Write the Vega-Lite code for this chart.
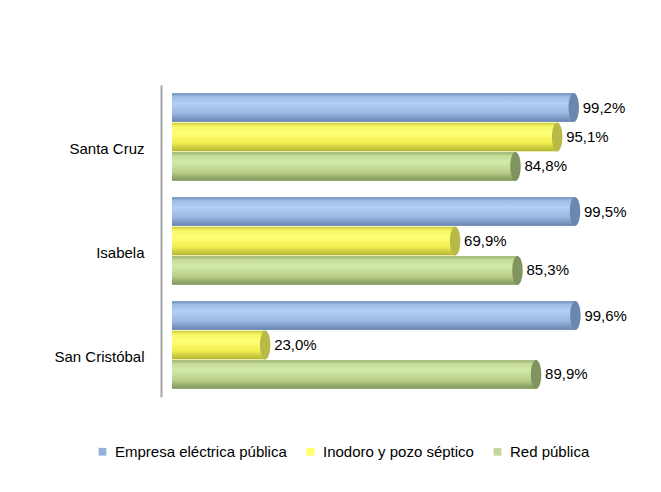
{
  "$schema": "https://vega.github.io/schema/vega-lite/v6.json",
  "width": 405,
  "height": 312,
  "autosize": {"type": "none"},
  "padding": {"left": 172, "top": 85, "right": 84, "bottom": 95},
  "background": "white",
  "config": {
    "view": {"stroke": null},
    "font": "Liberation Sans",
    "locale": {"number": {"decimal": ",", "thousands": ".", "grouping": [3], "currency": ["", " €"]}}
  },
  "data": {
    "values": [
      {"group": "Santa Cruz", "series": "Empresa eléctrica pública", "value": 0.992},
      {"group": "Santa Cruz", "series": "Inodoro y pozo séptico", "value": 0.951},
      {"group": "Santa Cruz", "series": "Red pública", "value": 0.848},
      {"group": "Isabela", "series": "Empresa eléctrica pública", "value": 0.995},
      {"group": "Isabela", "series": "Inodoro y pozo séptico", "value": 0.699},
      {"group": "Isabela", "series": "Red pública", "value": 0.853},
      {"group": "San Cristóbal", "series": "Empresa eléctrica pública", "value": 0.996},
      {"group": "San Cristóbal", "series": "Inodoro y pozo séptico", "value": 0.23},
      {"group": "San Cristóbal", "series": "Red pública", "value": 0.899}
    ]
  },
  "encoding": {
    "y": {
      "field": "group", "type": "nominal",
      "sort": ["Santa Cruz", "Isabela", "San Cristóbal"],
      "scale": {"paddingInner": 0.16, "paddingOuter": 0.08},
      "axis": {"title": null, "ticks": false, "tickSize": 0, "domainColor": "#a6a6a6", "domainWidth": 2, "offset": 11, "labelPadding": 17, "labelFontSize": 15, "labelColor": "#000000", "labelOffset": 12, "labelFont": "Liberation Sans"}
    },
    "yOffset": {
      "field": "series", "type": "nominal",
      "sort": ["Empresa eléctrica pública", "Inodoro y pozo séptico", "Red pública"],
      "scale": {"paddingInner": 0.03}
    },
    "x": {"field": "value", "type": "quantitative", "scale": {"domain": [0, 1], "nice": false}, "axis": null}
  },
  "layer": [
    {
      "mark": {"type": "bar", "stroke": null},
      "encoding": {
        "color": {
          "field": "series", "type": "nominal",
          "scale": {"domain": ["Empresa eléctrica pública", "Inodoro y pozo séptico", "Red pública"], "range": ["#95B3D7", "#FFFF66", "#C3D69B"]},
          "legend": {"orient": "none", "legendX": -77, "legendY": 359, "direction": "horizontal", "title": null, "symbolType": "square", "symbolSize": 60, "symbolStrokeWidth": 0, "labelFontSize": 15, "labelColor": "#000000", "labelFont": "Liberation Sans", "labelLimit": 400, "columnPadding": 16, "labelOffset": 5}
        }
      }
    },
    {
      "transform": [{"filter": "datum.series === 'Empresa eléctrica pública'"}],
      "mark": {"type": "bar", "stroke": null, "fill": {"gradient": "linear", "x1": 0, "y1": 0, "x2": 0, "y2": 1, "stops": [
        {"offset": 0, "color": "#7290bd"}, {"offset": 0.12, "color": "#9dbde8"}, {"offset": 0.35, "color": "#b2d0f5"}, {"offset": 0.7, "color": "#98b7e0"}, {"offset": 1, "color": "#6682ad"}]}}
    },
    {
      "transform": [{"filter": "datum.series === 'Inodoro y pozo séptico'"}],
      "mark": {"type": "bar", "stroke": null, "fill": {"gradient": "linear", "x1": 0, "y1": 0, "x2": 0, "y2": 1, "stops": [
        {"offset": 0, "color": "#c9c93e"}, {"offset": 0.12, "color": "#f5f560"}, {"offset": 0.35, "color": "#ffff7a"}, {"offset": 0.7, "color": "#f0f050"}, {"offset": 1, "color": "#b3b335"}]}}
    },
    {
      "transform": [{"filter": "datum.series === 'Red pública'"}],
      "mark": {"type": "bar", "stroke": null, "fill": {"gradient": "linear", "x1": 0, "y1": 0, "x2": 0, "y2": 1, "stops": [
        {"offset": 0, "color": "#97ac6f"}, {"offset": 0.12, "color": "#c4db93"}, {"offset": 0.35, "color": "#d3e9a7"}, {"offset": 0.7, "color": "#b9cf89"}, {"offset": 1, "color": "#80965b"}]}}
    },
    {
      "mark": {"type": "point", "shape": "M0,-1A0.36,1,0,1,1,0,1A0.36,1,0,1,1,0,-1Z", "filled": true, "size": 841, "opacity": 1, "strokeWidth": 0},
      "encoding": {
        "fill": {
          "field": "series", "type": "nominal",
          "scale": {"domain": ["Empresa eléctrica pública", "Inodoro y pozo séptico", "Red pública"], "range": ["#6a87b0", "#b9b948", "#7f945e"]},
          "legend": null
        }
      }
    },
    {
      "mark": {"type": "text", "align": "left", "baseline": "middle", "dx": 9, "fontSize": 15, "color": "#000000", "font": "Liberation Sans"},
      "encoding": {"text": {"field": "value", "type": "quantitative", "format": ".1%"}}
    }
  ]
}
